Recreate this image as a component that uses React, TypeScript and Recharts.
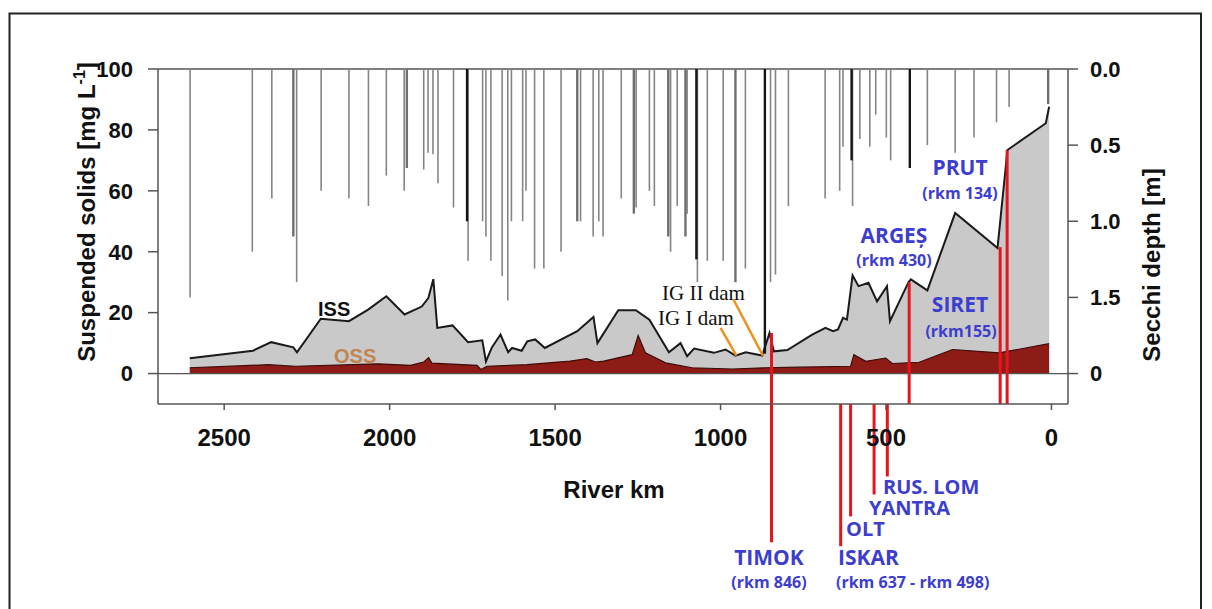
import { ComposedChart, Area, XAxis, YAxis, ReferenceLine } from 'recharts'

// inorganic suspended solids (ISS), mg/L, along the river (rkm)
const issKm = [7, 17, 133, 163, 291, 375, 425, 432, 488, 497, 527, 553, 583, 601, 618, 630, 645, 660, 683, 723, 798, 839, 852, 874, 924, 955, 985, 1020, 1080, 1101, 1121, 1156, 1215, 1256, 1309, 1372, 1384, 1433, 1531, 1560, 1584, 1601, 1630, 1642, 1665, 1691, 1709, 1720, 1763, 1810, 1856, 1868, 1883, 1903, 1955, 2010, 2065, 2123, 2208, 2280, 2291, 2358, 2413, 2604]
const issVal = [87.6, 82.2, 73.4, 41.2, 52.7, 27.3, 30.9, 30.0, 17.2, 28.7, 23.7, 29.8, 28.7, 32.2, 17.7, 18.3, 14.5, 13.9, 15.0, 12.8, 7.7, 7.3, 13.3, 5.9, 7.0, 5.9, 7.9, 6.8, 8.2, 5.7, 10.0, 7.0, 17.7, 20.8, 20.8, 10.0, 18.6, 13.9, 8.4, 11.2, 10.6, 7.5, 8.4, 7.0, 12.8, 8.6, 4.0, 10.9, 10.3, 15.8, 15.0, 31.0, 24.8, 22.0, 19.4, 25.4, 21.0, 17.2, 18.0, 7.0, 8.6, 10.3, 7.5, 5.0]

// organic suspended solids (OSS), mg/L
const ossKm = [7, 158, 299, 400, 481, 501, 561, 597, 607, 763, 864, 965, 1086, 1166, 1227, 1249, 1267, 1353, 1378, 1404, 1454, 1585, 1706, 1724, 1736, 1872, 1882, 1897, 1937, 2034, 2285, 2366, 2604]
const ossVal = [9.8, 6.8, 7.9, 3.7, 3.3, 5.1, 4.0, 6.2, 2.4, 2.1, 1.9, 1.5, 1.9, 3.5, 6.8, 12.5, 6.2, 4.1, 3.8, 4.9, 4.1, 2.9, 2.4, 1.3, 2.7, 3.4, 5.2, 3.8, 2.7, 3.2, 2.4, 2.9, 1.9]

// Secchi depth, m (bars hang from the top axis)
const secchiKm = [10, 128, 166, 234, 291, 375, 428, 486, 499, 531, 549, 579, 601, 604, 630, 640, 684, 795, 834, 849, 866, 925, 955, 992, 1040, 1070, 1073, 1101, 1106, 1131, 1151, 1158, 1200, 1215, 1255, 1262, 1300, 1355, 1368, 1385, 1423, 1433, 1482, 1534, 1562, 1588, 1598, 1632, 1643, 1660, 1694, 1709, 1719, 1763, 1766, 1807, 1854, 1869, 1884, 1897, 1948, 1956, 2010, 2064, 2123, 2207, 2281, 2291, 2356, 2415, 2603]
const secchiDepth = [0.23, 0.25, 0.35, 0.45, 0.55, 0.5, 0.65, 0.6, 0.45, 0.3, 0.51, 0.46, 0.9, 0.6, 0.51, 0.8, 0.85, 0.9, 1.35, 1.4, 1.87, 1.31, 1.4, 1.26, 1.26, 1.4, 1.25, 0.95, 1.1, 0.9, 1.2, 1.1, 0.9, 0.8, 0.91, 0.95, 0.85, 1.1, 1.0, 1.1, 1.0, 1.0, 1.2, 1.31, 1.31, 0.8, 1.0, 1.0, 1.52, 1.36, 1.26, 1.1, 1.0, 1.26, 1.0, 0.91, 0.75, 0.56, 0.55, 0.66, 0.65, 0.8, 0.7, 0.9, 0.85, 0.8, 1.4, 1.1, 0.85, 1.2, 1.5]

// tributaries: mouth rkm, line from / to (mg/L axis units)
const tribKm = [846, 637, 607, 536, 496, 430, 155, 134]
const tribFrom = [13.3, -10, -10, -10, -10, 30, 41.5, 73.3]
const tribTo = [-55.4, -56.7, -46.9, -39.7, -33.8, -10, -10, -10]

// Iron Gate dams: leader lines from label to river profile
const damFromKm = [1000, 961]
const damFromVal = [15, 24.3]
const damToKm = [952, 872]
const damToVal = [5.9, 5.9]

const leftTicks = [0, 20, 40, 60, 80, 100]
const rightTicks = [0, 0.5, 1, 1.5, 2]
const rightTickLabels = ['0.0', '0.5', '1.0', '1.5', '0']
const kmTicks = [0, 500, 1000, 1500, 2000, 2500]

const DARK_BARS = [428, 604, 866, 1073, 1766]
const THICK_BARS = [10, 955, 1106, 1158, 1262, 1433, 1948, 2291]

const AXIS = '#555'
const BLUE = '#3d3dd0'
const SANS = 'Liberation Sans, Arial, sans-serif'
const LABEL_FONT = '"Open Sans", sans-serif'

const profile = Array.from(new Set([...issKm, ...ossKm]))
  .sort((a, b) => a - b)
  .map(km => {
    const i = issKm.indexOf(km)
    const j = ossKm.indexOf(km)
    return { km, iss: i >= 0 ? issVal[i] : null, oss: j >= 0 ? ossVal[j] : null }
  })

const tickStyle = { fill: '#111', fontFamily: SANS, fontWeight: 700 }

export default function App() {
  return (
    <div style={{ position: 'absolute', left: 0, top: 0, width: 1212, height: 609, background: '#fff', overflow: 'hidden' }}>
      <ComposedChart width={1212} height={609} data={profile} margin={{ top: 69, right: 84, bottom: 145, left: 98 }}>
        <XAxis
          dataKey="km"
          type="number"
          domain={[-50, 2700]}
          allowDataOverflow
          reversed
          ticks={kmTicks}
          height={60}
          tickSize={6}
          tickMargin={19}
          stroke={AXIS}
          strokeWidth={1.5}
          tick={{ ...tickStyle, fontSize: 24 }}
        />
        <YAxis
          yAxisId="left"
          type="number"
          domain={[-10, 100]}
          allowDataOverflow
          ticks={leftTicks}
          width={60}
          tickSize={10}
          tickMargin={15}
          stroke={AXIS}
          strokeWidth={1.5}
          tick={{ ...tickStyle, fontSize: 22 }}
        />
        <YAxis
          yAxisId="right"
          orientation="right"
          type="number"
          domain={[0, 2.2]}
          allowDataOverflow
          reversed
          ticks={rightTicks}
          tickFormatter={v => rightTickLabels[rightTicks.indexOf(v)]}
          width={60}
          tickSize={10}
          tickMargin={12}
          stroke={AXIS}
          strokeWidth={1.5}
          tick={{ ...tickStyle, fontSize: 22 }}
        />

        <Area
          yAxisId="left"
          type="linear"
          dataKey="iss"
          baseValue={0}
          connectNulls
          fill="#c9c9c9"
          fillOpacity={1}
          stroke="#1a1a1a"
          strokeWidth={2}
          dot={false}
          activeDot={false}
          isAnimationActive={false}
        />
        <Area
          yAxisId="left"
          type="linear"
          dataKey="oss"
          baseValue={0}
          connectNulls
          fill="#8d1b16"
          fillOpacity={1}
          stroke="#3d0c09"
          strokeWidth={1.2}
          dot={false}
          activeDot={false}
          isAnimationActive={false}
        />

        <ReferenceLine yAxisId="left" y={100} stroke={AXIS} strokeWidth={1.5} />
        <ReferenceLine yAxisId="left" y={0} stroke={AXIS} strokeWidth={1.2} />

        {secchiKm.map((km, i) => {
          const dark = DARK_BARS.includes(km)
          const thick = THICK_BARS.includes(km)
          return (
            <ReferenceLine
              key={'s' + i}
              yAxisId="right"
              segment={[{ x: km, y: 0 }, { x: km, y: secchiDepth[i] }]}
              stroke={dark ? '#161616' : thick ? '#6f6f6f' : '#858585'}
              strokeWidth={dark || thick ? 2.4 : 1.6}
            />
          )
        })}

        {damFromKm.map((km, i) => (
          <ReferenceLine
            key={'d' + i}
            yAxisId="left"
            segment={[{ x: km, y: damFromVal[i] }, { x: damToKm[i], y: damToVal[i] }]}
            stroke="#f0901f"
            strokeWidth={2.5}
          />
        ))}

        {tribKm.map((km, i) => (
          <ReferenceLine
            key={'t' + i}
            yAxisId="left"
            segment={[{ x: km, y: tribFrom[i] }, { x: km, y: tribTo[i] }]}
            stroke="#e8141c"
            strokeWidth={3}
            ifOverflow="visible"
          />
        ))}
      </ComposedChart>

      <svg width={1212} height={609} style={{ position: 'absolute', left: 0, top: 0, pointerEvents: 'none' }}>
        <path d="M9.5 612 V13.5 H1201 V612" fill="none" stroke="#222" strokeWidth={2} />

        <text transform="translate(95,212) rotate(-90)" textAnchor="middle" fontFamily={SANS} fontWeight={700} fontSize={24} fill="#111">
          Suspended solids [mg L<tspan dy={-10} fontSize={16}>-1</tspan><tspan dy={10}>]</tspan>
        </text>
        <text transform="translate(1160,265) rotate(-90)" textAnchor="middle" fontFamily={SANS} fontWeight={700} fontSize={24} fill="#111">
          Secchi depth [m]
        </text>
        <text x={614} y={498} textAnchor="middle" fontFamily={SANS} fontWeight={700} fontSize={24} fill="#111">River km</text>

        <text x={318} y={316} fontFamily={SANS} fontWeight={700} fontSize={20} fill="#111">ISS</text>
        <text x={334} y={363} fontFamily={SANS} fontWeight={700} fontSize={20} fill="#c08550">OSS</text>

        <text x={662} y={300} fontFamily="Liberation Serif, Times New Roman, serif" fontSize={21} fill="#111">IG II dam</text>
        <text x={658} y={325} fontFamily="Liberation Serif, Times New Roman, serif" fontSize={21} fill="#111">IG I dam</text>

        <g fontFamily={LABEL_FONT} fontWeight={700} fill={BLUE}>
          <text x={960} y={175} textAnchor="middle" fontSize={21}>PRUT</text>
          <text x={960} y={199} textAnchor="middle" fontSize={16}>(rkm 134)</text>
          <text x={894} y={243} textAnchor="middle" fontSize={21}>ARGEȘ</text>
          <text x={894} y={266} textAnchor="middle" fontSize={16}>(rkm 430)</text>
          <text x={960} y={312} textAnchor="middle" fontSize={21}>SIRET</text>
          <text x={961} y={337} textAnchor="middle" fontSize={16}>(rkm155)</text>
          <text x={769} y={565} textAnchor="middle" fontSize={21}>TIMOK</text>
          <text x={769} y={588} textAnchor="middle" fontSize={16}>(rkm 846)</text>
          <text x={838} y={565} fontSize={21}>ISKAR</text>
          <text x={836} y={588} fontSize={16}>(rkm 637 - rkm 498)</text>
          <text x={846} y={536} fontSize={20}>OLT</text>
          <text x={869} y={515} fontSize={20}>YANTRA</text>
          <text x={883} y={494} fontSize={20}>RUS. LOM</text>
        </g>
      </svg>
    </div>
  )
}
